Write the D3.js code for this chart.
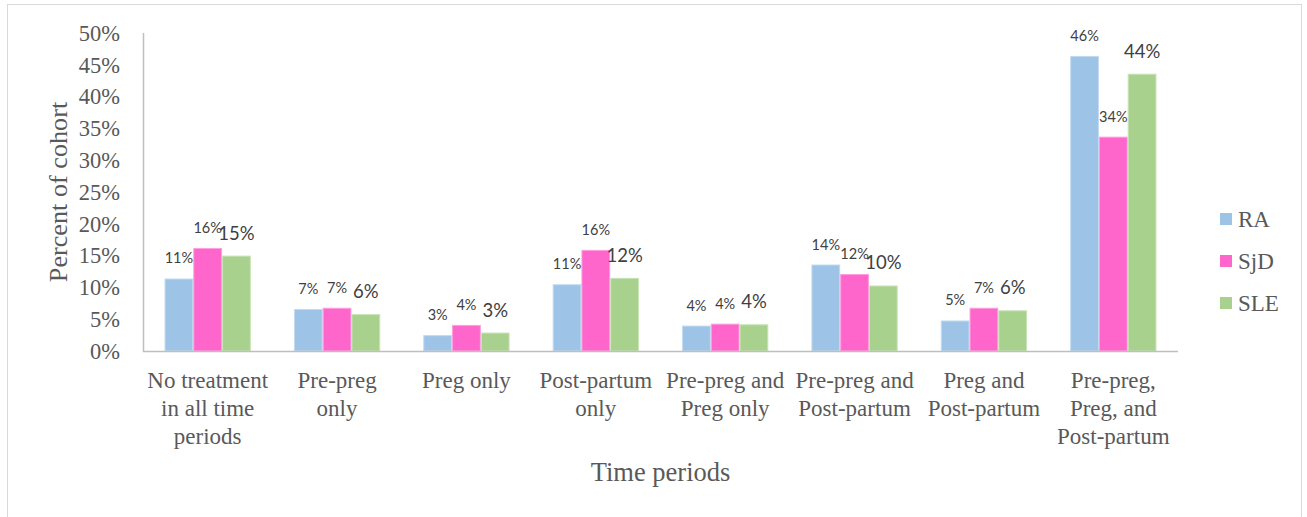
<!DOCTYPE html>
<html>
<head>
<meta charset="utf-8">
<script src="https://cdn.jsdelivr.net/npm/d3@7"></script>
<style>
  html, body { margin: 0; padding: 0; background: #fff; }
  svg { display: block; }
</style>
</head>
<body>
<svg id="chart" width="1307" height="517"></svg>
<script>
// Treatment-period categories (line breaks mark label wrapping)
const categories = [
  "No treatment\nin all time\nperiods",
  "Pre-preg\nonly",
  "Preg only",
  "Post-partum\nonly",
  "Pre-preg and\nPreg only",
  "Pre-preg and\nPost-partum",
  "Preg and\nPost-partum",
  "Pre-preg,\nPreg, and\nPost-partum"
];

const seriesNames = ["RA", "SjD", "SLE"];

// Percent of cohort per category
const raValues  = [11.4, 6.6, 2.5, 10.5, 4.0, 13.6, 4.8, 46.4];
const sjdValues = [16.2, 6.8, 4.1, 15.9, 4.3, 12.1, 6.8, 33.7];
const sleValues = [15.0, 5.8, 2.9, 11.5, 4.2, 10.3, 6.4, 43.6];

const yTicks = [0, 5, 10, 15, 20, 25, 30, 35, 40, 45, 50];

const seriesValues = [raValues, sjdValues, sleValues];
const colors = ["#9dc3e6", "#ff66cc", "#a9d18e"];
const edgeColors = ["#c3daf0", "#ff9ddf", "#c8e3b7"];
const labelSizes = [14.5, 14.5, 18.5];

const svg = d3.select("#chart");
const plot = { left: 143, right: 1178, top: 33, bottom: 351 };

// outer frame
svg.append("rect")
  .attr("x", 7.5).attr("y", 4.5)
  .attr("width", 1294).attr("height", 530)
  .attr("fill", "none").attr("stroke", "#d9d9d9").attr("stroke-width", 1);

const x0 = d3.scaleBand()
  .domain(d3.range(categories.length))
  .range([plot.left, plot.right])
  .paddingInner(0.333)
  .paddingOuter(0.1665);

const x1 = d3.scaleBand()
  .domain(d3.range(seriesNames.length))
  .range([0, x0.bandwidth()]);

const y = d3.scaleLinear().domain([0, 50]).range([plot.bottom, plot.top]);

// y axis tick labels
const yAxis = d3.axisLeft(y)
  .tickValues(yTicks)
  .tickFormat(d => d + "%")
  .tickSize(0)
  .tickPadding(23);

const yg = svg.append("g")
  .attr("transform", `translate(${plot.left},0)`)
  .call(yAxis);
yg.select(".domain").remove();
yg.selectAll("text")
  .attr("font-family", "'Liberation Serif', 'Times New Roman', serif")
  .attr("font-size", 22.5)
  .attr("fill", "#595959");

// bars
const groups = svg.append("g").selectAll("g")
  .data(categories)
  .join("g")
  .attr("transform", (d, i) => `translate(${x0(i)},0)`);

groups.selectAll("rect")
  .data((d, i) => seriesValues.map((vals, s) => ({ s, v: vals[i] })))
  .join("rect")
  .attr("x", d => x1(d.s) + 0.5)
  .attr("y", d => y(d.v) + 0.5)
  .attr("width", x1.bandwidth() - 1)
  .attr("height", d => y(0) - y(d.v) - 0.5)
  .attr("fill", d => colors[d.s])
  .attr("stroke", d => edgeColors[d.s])
  .attr("stroke-width", 1);

// value labels
groups.selectAll("text.val")
  .data((d, i) => seriesValues.map((vals, s) => ({ s, v: vals[i] })))
  .join("text")
  .attr("class", "val")
  .attr("x", d => x1(d.s) + x1.bandwidth() / 2)
  .attr("y", d => y(d.v) - (d.s === 2 ? 16 : 15))
  .attr("text-anchor", "middle")
  .attr("font-family", "Lato, 'Open Sans', sans-serif")
  .attr("font-size", d => labelSizes[d.s])
  .attr("fill", "#404040")
  .text(d => Math.round(d.v) + "%");

// axis lines
svg.append("line")
  .attr("x1", plot.left + 0.5).attr("x2", plot.left + 0.5)
  .attr("y1", plot.top).attr("y2", plot.bottom + 1)
  .attr("stroke", "#bfbfbf").attr("stroke-width", 1.5);
svg.append("line")
  .attr("x1", plot.left).attr("x2", plot.right)
  .attr("y1", plot.bottom + 0.5).attr("y2", plot.bottom + 0.5)
  .attr("stroke", "#bfbfbf").attr("stroke-width", 1.5);

// category labels
const catText = svg.append("g").selectAll("text")
  .data(categories)
  .join("text")
  .attr("x", (d, i) => x0(i) + x0.bandwidth() / 2)
  .attr("y", 388)
  .attr("text-anchor", "middle")
  .attr("font-family", "'Liberation Serif', 'Times New Roman', serif")
  .attr("font-size", 23)
  .attr("fill", "#595959");
catText.each(function (d, i) {
  const t = d3.select(this);
  d.split("\n").forEach((line, k) => {
    t.append("tspan")
      .attr("x", x0(i) + x0.bandwidth() / 2)
      .attr("dy", k === 0 ? 0 : 28)
      .text(line);
  });
});

// axis titles
svg.append("text")
  .attr("x", (plot.left + plot.right) / 2)
  .attr("y", 481)
  .attr("text-anchor", "middle")
  .attr("font-family", "'Liberation Serif', 'Times New Roman', serif")
  .attr("font-size", 26.5)
  .attr("fill", "#595959")
  .text("Time periods");

svg.append("text")
  .attr("transform", `translate(67,${(plot.top + plot.bottom) / 2}) rotate(-90)`)
  .attr("text-anchor", "middle")
  .attr("font-family", "'Liberation Serif', 'Times New Roman', serif")
  .attr("font-size", 26.2)
  .attr("fill", "#595959")
  .text("Percent of cohort");

// legend
const legend = svg.append("g").selectAll("g")
  .data(seriesNames)
  .join("g")
  .attr("transform", (d, i) => `translate(1220,${219 + i * 42})`);
legend.append("rect")
  .attr("x", 0).attr("y", -6)
  .attr("width", 12).attr("height", 12)
  .attr("fill", (d, i) => colors[i]);
legend.append("text")
  .attr("x", 18).attr("y", 8)
  .attr("font-family", "'Liberation Serif', 'Times New Roman', serif")
  .attr("font-size", 23)
  .attr("fill", "#595959")
  .text(d => d);
</script>
</body>
</html>
